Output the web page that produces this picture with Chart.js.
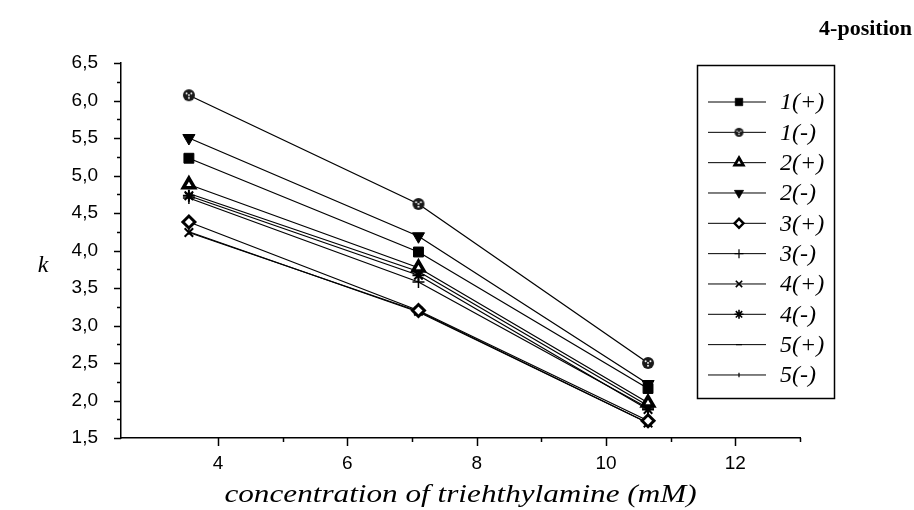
<!DOCTYPE html>
<html>
<head>
<meta charset="utf-8">
<script src="https://cdn.jsdelivr.net/npm/chart.js@4/dist/chart.umd.min.js"></script>
<style>
  html, body { margin: 0; padding: 0; background: #fff; }
  #wrap { width: 914px; height: 510px; }
</style>
</head>
<body>
<div id="wrap"><canvas id="chart" width="914" height="510"></canvas></div>
<script>
// concentration of triethylamine (mM)
const concentrations = [3.55, 7.1, 10.65];
const seriesNames = ['1(+)', '1(-)', '2(+)', '2(-)', '3(+)', '3(-)', '4(+)', '4(-)', '5(+)', '5(-)'];

// k values
const k1plus  = [5.23, 3.98, 2.16];
const k1minus = [6.07, 4.62, 2.50];
const k2plus  = [4.88, 3.77, 1.97];
const k2minus = [5.50, 4.19, 2.22];
const k3plus  = [4.38, 3.20, 1.73];
const k3minus = [4.70, 3.58, 1.90];
const k4plus  = [4.24, 3.19, 1.70];
const k4minus = [4.73, 3.67, 1.88];
const k5plus  = [4.76, 3.72, 1.93];
const k5minus = [4.25, 3.18, 1.70];
const seriesValues = [k1plus, k1minus, k2plus, k2minus, k3plus, k3minus, k4plus, k4minus, k5plus, k5minus];

const xTitle = 'concentration of triehthylamine (mM)';
const yTitle = 'k';
const cornerTitle = '4-position';

// circle with white dots used for 1(-)
function dottedCircle(r) {
    const c = document.createElement('canvas');
    const s = Math.ceil(r * 2) + 2;
    c.width = s; c.height = s;
    const g = c.getContext('2d');
    const m = s / 2;
    g.fillStyle = '#1a1a1a';
    g.beginPath(); g.arc(m, m, r, 0, Math.PI * 2); g.fill();
    g.fillStyle = '#fff';
    [[-0.4, -0.3], [0.4, -0.3], [0, 0.45], [0, -0.02]].forEach(([dx, dy]) => {
        g.beginPath(); g.arc(m + dx * r, m + dy * r, r * 0.16, 0, Math.PI * 2); g.fill();
    });
    return c;
}

const markerStyles = [
    { pointStyle: 'rect', radius: 7, rotation: 0, fill: '#000', border: 1 },
    { pointStyle: dottedCircle(6), radius: 6, rotation: 0, fill: '#000', border: 0 },
    { pointStyle: 'triangle', radius: 6.5, rotation: 0, fill: '#fff', border: 3.5 },
    { pointStyle: 'triangle', radius: 7, rotation: 180, fill: '#000', border: 1 },
    { pointStyle: 'rectRot', radius: 6, rotation: 0, fill: '#fff', border: 3 },
    { pointStyle: 'cross', radius: 6, rotation: 0, fill: '#000', border: 1.5 },
    { pointStyle: 'crossRot', radius: 6, rotation: 0, fill: '#000', border: 2 },
    { pointStyle: 'star', radius: 6, rotation: 0, fill: '#000', border: 2 },
    { pointStyle: 'line', radius: 4, rotation: 0, fill: '#000', border: 1.5 },
    { pointStyle: 'line', radius: 3, rotation: 90, fill: '#000', border: 1.5 }
];

const datasets = seriesNames.map((name, i) => ({
    label: name,
    data: concentrations.map((c, j) => ({ x: c, y: seriesValues[i][j] })),
    borderColor: '#000',
    borderWidth: 1.3,
    fill: false,
    tension: 0,
    pointStyle: markerStyles[i].pointStyle,
    pointRadius: markerStyles[i].radius,
    pointRotation: markerStyles[i].rotation,
    pointBackgroundColor: markerStyles[i].fill,
    pointBorderColor: '#000',
    pointBorderWidth: markerStyles[i].border
}));

// tick marks, legend box and free texts
const extras = {
    id: 'extras',
    afterDraw(chart) {
        const ctx = chart.ctx;
        const xs = chart.scales.x, ys = chart.scales.y;
        const area = chart.chartArea;
        ctx.save();
        ctx.strokeStyle = '#000';
        ctx.lineWidth = 1.5;

        xs.ticks.forEach(t => {
            if (Math.abs(t.value - Math.round(t.value)) > 1e-6) return;
            const px = Math.round(xs.getPixelForValue(t.value)) + 0.5;
            const len = t.label !== '' ? 8 : 4;
            ctx.beginPath(); ctx.moveTo(px, area.bottom); ctx.lineTo(px, area.bottom + len); ctx.stroke();
        });
        ys.ticks.forEach(t => {
            const py = Math.round(ys.getPixelForValue(t.value)) + 0.5;
            const len = t.label !== '' ? 7 : 4;
            ctx.beginPath(); ctx.moveTo(area.left, py); ctx.lineTo(area.left - len, py); ctx.stroke();
        });

        // legend
        ctx.lineWidth = 1.5;
        ctx.strokeRect(697.5, 65.5, 137, 333);
        const drawPoint = Chart.helpers && Chart.helpers.drawPoint;
        chart.data.datasets.forEach((ds, i) => {
            const y = 102 + i * 30.33;
            ctx.lineWidth = 1;
            ctx.strokeStyle = '#000';
            ctx.beginPath(); ctx.moveTo(708, y); ctx.lineTo(766, y); ctx.stroke();
            if (drawPoint) {
                ctx.fillStyle = ds.pointBackgroundColor;
                ctx.strokeStyle = '#000';
                ctx.lineWidth = ds.pointBorderWidth * 0.8;
                drawPoint(ctx, {
                    pointStyle: i === 1 ? dottedCircle(4.5) : ds.pointStyle,
                    rotation: ds.pointRotation,
                    radius: ds.pointRadius * 0.75,
                    borderWidth: ds.pointBorderWidth * 0.8
                }, 739, y);
            }
            ctx.fillStyle = '#000';
            ctx.font = 'italic 24px "Liberation Serif"';
            ctx.textAlign = 'left';
            ctx.textBaseline = 'middle';
            ctx.fillText(ds.label, 780, y + 1);
        });

        ctx.font = 'italic 24px "Liberation Serif"';
        ctx.textAlign = 'center';
        ctx.textBaseline = 'middle';
        ctx.fillText(yTitle, 43, 266);

        // x axis title, the source type is a little wider than the font
        ctx.save();
        ctx.translate((area.left + area.right) / 2, 495);
        ctx.scale(1.2, 1);
        ctx.font = 'italic 26px "Liberation Serif"';
        ctx.fillText(xTitle, 0, 0);
        ctx.restore();

        ctx.font = 'bold 22px "Liberation Serif"';
        ctx.textAlign = 'right';
        ctx.fillText(cornerTitle, 912, 29);
        ctx.restore();
    }
};

new Chart(document.getElementById('chart').getContext('2d'), {
    type: 'line',
    data: { datasets: datasets },
    options: {
        responsive: false,
        animation: false,
        layout: { padding: { top: 63, right: 114, bottom: 0, left: 0 } },
        scales: {
            x: {
                type: 'linear',
                min: 2.5,
                max: 13,
                afterFit: s => { s.height = 72; },
                border: { display: true, color: '#000', width: 1.5 },
                grid: { drawOnChartArea: false, drawTicks: true, tickLength: 7, tickColor: 'rgba(0,0,0,0)' },
                ticks: {
                    stepSize: 1,
                    padding: 7,
                    color: '#000',
                    maxRotation: 0,
                    autoSkip: false,
                    font: { family: '"Liberation Sans"', size: 19 },
                    callback: v => (Math.abs(v % 2) < 1e-6 ? String(v) : '')
                }
            },
            y: {
                min: 1.5,
                max: 6.5,
                afterFit: s => { s.width = 121; },
                border: { display: true, color: '#000', width: 1.5 },
                grid: { drawOnChartArea: false, drawTicks: true, tickLength: 7, tickColor: 'rgba(0,0,0,0)' },
                ticks: {
                    stepSize: 0.25,
                    padding: 16,
                    color: '#000',
                    autoSkip: false,
                    font: { family: '"Liberation Sans"', size: 19 },
                    callback: v => (Math.abs(v * 2 - Math.round(v * 2)) < 1e-6 ? v.toFixed(1).replace('.', ',') : '')
                }
            }
        },
        plugins: {
            legend: { display: false },
            tooltip: { enabled: false }
        }
    },
    plugins: [extras]
});
</script>
</body>
</html>
